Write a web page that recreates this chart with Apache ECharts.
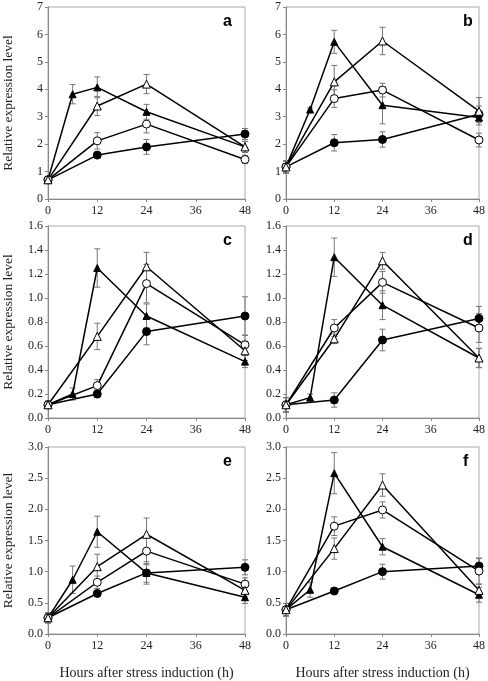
<!DOCTYPE html>
<html><head><meta charset="utf-8">
<script src="https://cdn.jsdelivr.net/npm/echarts@6/dist/echarts.min.js"></script>
<style>html,body{margin:0;padding:0;background:#fff}#c{width:488px;height:681px}</style>
</head><body><div id="c"></div>
<script>
// x positions (hours)
const hours = [0, 12, 24, 48];
const hoursTri = [0, 6, 12, 24, 48];
const xTicks = [0, 12, 24, 36, 48];
const panelLetters = ['a', 'b', 'c', 'd', 'e', 'f'];
const yAxisMax = [7, 7, 1.6, 1.6, 3, 3];
const yAxisStep = [1, 1, 0.2, 0.2, 0.5, 0.5];
const yDecimals = [0, 0, 1, 1, 1, 1];

// Panel a
const a_filledCircle = [0.70, 1.60, 1.90, 2.37];
const a_filledCircleErr = [0.08, 0.10, 0.27, 0.20];
const a_openCircle = [0.70, 2.12, 2.73, 1.44];
const a_openCircleErr = [0.08, 0.30, 0.32, 0.15];
const a_filledTri = [0.70, 3.82, 4.07, 3.18, 1.90];
const a_filledTriErr = [0.08, 0.35, 0.38, 0.27, 0.20];
const a_openTri = [0.70, 3.39, 4.19, 1.90];
const a_openTriErr = [0.08, 0.35, 0.35, 0.20];
// Panel b
const b_filledCircle = [1.17, 2.05, 2.17, 3.09];
const b_filledCircleErr = [0.22, 0.30, 0.28, 0.30];
const b_openCircle = [1.17, 3.66, 3.97, 2.15];
const b_openCircleErr = [0.22, 0.32, 0.25, 0.25];
const b_filledTri = [1.17, 3.26, 5.73, 3.42, 2.97];
const b_filledTriErr = [0.22, 0.06, 0.42, 0.68, 0.15];
const b_openTri = [1.17, 4.27, 5.76, 3.20];
const b_openTriErr = [0.22, 0.60, 0.50, 0.50];
// Panel c
const c_filledCircle = [0.11, 0.20, 0.72, 0.85];
const c_filledCircleErr = [0.03, 0.03, 0.11, 0.16];
const c_openCircle = [0.11, 0.27, 1.12, 0.61];
const c_openCircleErr = [0.03, 0.05, 0.16, 0.08];
const c_filledTri = [0.11, 0.20, 1.25, 0.85, 0.47];
const c_filledTriErr = [0.03, 0.05, 0.16, 0.10, 0.05];
const c_openTri = [0.11, 0.68, 1.26, 0.56];
const c_openTriErr = [0.03, 0.11, 0.12, 0.08];
// Panel d
const d_filledCircle = [0.11, 0.15, 0.65, 0.83];
const d_filledCircleErr = [0.06, 0.06, 0.09, 0.10];
const d_openCircle = [0.11, 0.75, 1.13, 0.75];
const d_openCircleErr = [0.06, 0.07, 0.09, 0.12];
const d_filledTri = [0.11, 0.17, 1.34, 0.94, 0.50];
const d_filledTriErr = [0.06, 0.03, 0.16, 0.12, 0.08];
const d_openTri = [0.11, 0.66, 1.31, 0.50];
const d_openTriErr = [0.06, 0.04, 0.07, 0.08];
// Panel e
const e_filledCircle = [0.26, 0.65, 0.98, 1.07];
const e_filledCircleErr = [0.08, 0.05, 0.15, 0.12];
const e_openCircle = [0.26, 0.83, 1.33, 0.80];
const e_openCircleErr = [0.08, 0.10, 0.22, 0.10];
const e_filledTri = [0.26, 0.87, 1.64, 0.98, 0.59];
const e_filledTriErr = [0.08, 0.22, 0.25, 0.18, 0.10];
const e_openTri = [0.26, 1.08, 1.60, 0.70];
const e_openTriErr = [0.08, 0.20, 0.26, 0.10];
// Panel f
const f_filledCircle = [0.39, 0.69, 1.00, 1.09];
const f_filledCircleErr = [0.10, 0.05, 0.12, 0.12];
const f_openCircle = [0.39, 1.73, 1.99, 1.01];
const f_openCircleErr = [0.10, 0.15, 0.13, 0.21];
const f_filledTri = [0.39, 0.71, 2.58, 1.40, 0.63];
const f_filledTriErr = [0.10, 0.12, 0.33, 0.13, 0.12];
const f_openTri = [0.39, 1.37, 2.39, 0.70];
const f_openTriErr = [0.10, 0.17, 0.18, 0.10];

const panelData = {
  a: [a_filledCircle, a_filledCircleErr, a_openCircle, a_openCircleErr, a_filledTri, a_filledTriErr, a_openTri, a_openTriErr],
  b: [b_filledCircle, b_filledCircleErr, b_openCircle, b_openCircleErr, b_filledTri, b_filledTriErr, b_openTri, b_openTriErr],
  c: [c_filledCircle, c_filledCircleErr, c_openCircle, c_openCircleErr, c_filledTri, c_filledTriErr, c_openTri, c_openTriErr],
  d: [d_filledCircle, d_filledCircleErr, d_openCircle, d_openCircleErr, d_filledTri, d_filledTriErr, d_openTri, d_openTriErr],
  e: [e_filledCircle, e_filledCircleErr, e_openCircle, e_openCircleErr, e_filledTri, e_filledTriErr, e_openTri, e_openTriErr],
  f: [f_filledCircle, f_filledCircleErr, f_openCircle, f_openCircleErr, f_filledTri, f_filledTriErr, f_openTri, f_openTriErr]
};

const chart = echarts.init(document.getElementById('c'), null, {renderer: 'canvas'});
const serif = 'Liberation Serif, Times New Roman, serif';
const gridPos = [
  {left: 48, top: 7, width: 197, height: 192},
  {left: 286, top: 7, width: 199, height: 192},
  {left: 48, top: 226, width: 197, height: 192},
  {left: 286, top: 226, width: 199, height: 192},
  {left: 48, top: 447, width: 197, height: 192},
  {left: 286, top: 447, width: 199, height: 192}
];
const grids = [], xAxes = [], yAxes = [], series = [], graphics = [];
const axisColor = '#888';

function pairs(xs, ys) { return xs.map((x, i) => [x, ys[i]]); }
function errPairs(xs, ys, es) { return xs.map((x, i) => [x, ys[i] - es[i], ys[i] + es[i]]); }

panelLetters.forEach((L, i) => {
  const g = gridPos[i];
  grids.push(Object.assign({show: true, borderColor: '#aaa', borderWidth: 1, containLabel: false}, g));
  xAxes.push({
    type: 'value', gridIndex: i, min: 0, max: 48, interval: 12,
    axisLine: {show: true, onZero: false, lineStyle: {color: axisColor}},
    axisTick: {show: true, length: 3, lineStyle: {color: axisColor}},
    splitLine: {show: false},
    axisLabel: {color: '#222', fontFamily: serif, fontSize: 12, margin: 6},
    name: i >= 4 ? 'Hours after stress induction (h)' : '',
    nameLocation: 'middle', nameGap: 32,
    nameTextStyle: {color: '#222', fontFamily: serif, fontSize: 14}
  });
  const dec = yDecimals[i];
  yAxes.push({
    type: 'value', gridIndex: i, min: 0, max: yAxisMax[i], interval: yAxisStep[i],
    axisLine: {show: true, lineStyle: {color: axisColor}},
    axisTick: {show: true, length: 3, lineStyle: {color: axisColor}},
    splitLine: {show: false},
    axisLabel: {color: '#222', fontFamily: serif, fontSize: 12, margin: 5, formatter: v => v.toFixed(dec)},
    name: i % 2 === 0 ? 'Relative expression level' : '',
    nameLocation: 'middle', nameGap: 33,
    nameTextStyle: {color: '#222', fontFamily: serif, fontSize: 13.5}
  });
  const d = panelData[L];
  const defs = [
    {x: hours, y: d[0], e: d[1], symbol: 'circle', size: 8, fill: '#000'},
    {x: hours, y: d[2], e: d[3], symbol: 'circle', size: 8, fill: '#fff'},
    {x: hoursTri, y: d[4], e: d[5], symbol: 'triangle', size: 7, fill: '#000'},
    {x: hours, y: d[6], e: d[7], symbol: 'triangle', size: 8, fill: '#fff'}
  ];
  defs.forEach(s => {
    series.push({
      type: 'custom', xAxisIndex: i, yAxisIndex: i, z: 1, silent: true,
      data: errPairs(s.x, s.y, s.e),
      renderItem: function (params, api) {
        const x = api.value(0);
        const lo = api.coord([x, api.value(1)]);
        const hi = api.coord([x, api.value(2)]);
        const w = 3;
        const st = {stroke: '#777', lineWidth: 1};
        return {type: 'group', children: [
          {type: 'line', shape: {x1: lo[0], y1: lo[1], x2: hi[0], y2: hi[1]}, style: st},
          {type: 'line', shape: {x1: lo[0] - w, y1: lo[1], x2: lo[0] + w, y2: lo[1]}, style: st},
          {type: 'line', shape: {x1: hi[0] - w, y1: hi[1], x2: hi[0] + w, y2: hi[1]}, style: st}
        ]};
      }
    });
  });
  defs.forEach(s => {
    series.push({
      type: 'line', xAxisIndex: i, yAxisIndex: i, z: 3,
      data: pairs(s.x, s.y),
      symbol: s.symbol, symbolSize: s.size, showSymbol: true,
      lineStyle: {color: '#000', width: 1.5},
      itemStyle: {color: s.fill, borderColor: '#000', borderWidth: 1},
      animation: false
    });
  });
  graphics.push({
    type: 'text', left: g.left + g.width - 22, top: g.top + 7,
    style: {text: L, font: 'bold 16px Liberation Sans, Arial, sans-serif', fill: '#000'}
  });
});

chart.setOption({
  animation: false,
  grid: grids, xAxis: xAxes, yAxis: yAxes, series: series, graphic: graphics
});
</script>
</body></html>
